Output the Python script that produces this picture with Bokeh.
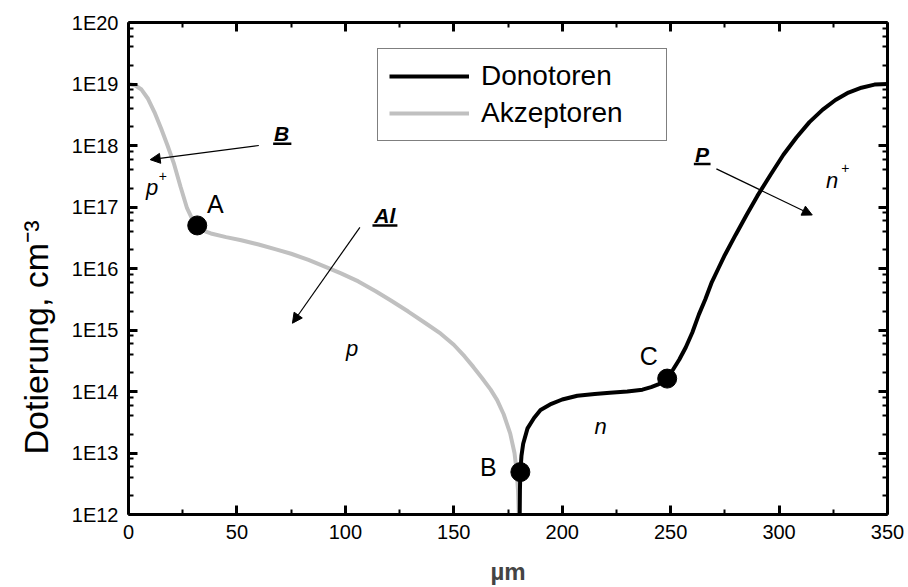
from bokeh.plotting import figure
from bokeh.models import (Range1d, FixedTicker, LinearAxis, LogAxis, Legend,
                          LegendItem, Arrow, NormalHead, Title, CustomJSTickFormatter)
from bokeh.core.properties import value
from bokeh.embed import file_html
from bokeh.resources import INLINE

FONT = "Liberation Sans"

# Depth in µm and decimal exponent of the doping concentration (cm^-3)
acceptor_x = [0, 3, 6, 9, 12, 15, 18, 21, 24, 27,
              30, 31.7, 34, 38, 45, 52, 60, 68, 75, 83,
              90, 98, 106, 114, 121, 129, 137, 144, 150, 155,
              159, 163, 167, 170, 173, 176, 178, 179, 179.6, 180]
acceptor_exp = [19.0, 18.98, 18.91, 18.76, 18.54, 18.28, 18.0, 17.7, 17.33, 16.98,
                16.76, 16.70, 16.62, 16.57, 16.51, 16.46, 16.39, 16.31, 16.24, 16.14,
                16.04, 15.92, 15.79, 15.63, 15.48, 15.30, 15.11, 14.94, 14.76, 14.57,
                14.40, 14.22, 14.03, 13.86, 13.63, 13.32, 13.0, 12.7, 12.4, 12.0]

donor_x = [180.4, 180.5, 180.7, 181.2, 182, 184, 187, 190, 195, 200,
           207, 215, 222, 230, 237, 241, 244, 246.5, 248.4, 251,
           254, 257, 260, 263, 266, 269, 272, 275, 280, 285,
           290, 296, 302, 308, 314, 320, 326, 332, 338, 344, 350]
donor_exp = [12.0, 12.4, 12.69, 12.95, 13.15, 13.4, 13.57, 13.70, 13.80, 13.87,
             13.93, 13.96, 13.98, 14.0, 14.03, 14.07, 14.11, 14.16, 14.21, 14.35,
             14.52, 14.72, 14.96, 15.25, 15.5, 15.78, 16.0, 16.22, 16.55, 16.87,
             17.18, 17.52, 17.85, 18.13, 18.38, 18.58, 18.74, 18.86, 18.94, 18.99, 19.0]

# Marked junction points
point_names = ["A", "B", "C"]
point_x = [31.7, 180.7, 248.4]
point_exp = [16.70, 12.69, 14.21]
point_label_x = [40.1, 165.9, 239.9]
point_label_exp = [17.05, 12.77, 14.57]

# Region names (italic) with their superscripts
region_text = ["p", "p", "n", "n"]
region_x = [10.9, 103.1, 217.7, 324.5]
region_exp = [17.32, 14.70, 13.43, 17.43]
sup_text = ["+", "+"]
sup_x = [15.8, 330.6]
sup_exp = [17.51, 17.64]

# Dopant labels with arrows (start of arrow near label, end at head)
dopant_text = ["B", "Al", "P"]
dopant_x = [70.6, 118.2, 264.5]
dopant_exp = [18.19, 16.86, 17.86]
underline_x0 = [66.7, 112.5, 260.7]
underline_x1 = [75.1, 124.0, 268.4]
underline_exp = [18.03, 16.70, 17.70]
arrow_x0 = [60.1, 106.7, 271.1]
arrow_exp0 = [18.0, 16.67, 17.62]
arrow_x1 = [10.0, 75.6, 315.3]
arrow_exp1 = [17.77, 15.11, 16.87]

x_ticks = [0, 50, 100, 150, 200, 250, 300, 350]
x_minor = [25, 75, 125, 175, 225, 275, 325]
y_exps = [12, 13, 14, 15, 16, 17, 18, 19, 20]
y_tick_labels = ["1E12", "1E13", "1E14", "1E15", "1E16", "1E17", "1E18", "1E19", "1E20"]

y_title = "Dotierung, cm⁻³"
x_title = "µm"

y_ticks = [10.0 ** e for e in y_exps]
y_minor = [m * 10.0 ** e for e in y_exps[:-1] for m in (2, 4, 6, 8)]


def pw(vals):
    return [10.0 ** v for v in vals]


p = figure(width=908, height=587, output_backend="svg", toolbar_location=None,
           x_range=Range1d(0, 350), y_range=Range1d(1e12, 1e20), y_axis_type="log",
           min_border_left=128, min_border_right=21, min_border_top=22,
           min_border_bottom=72)
p.grid.visible = False
p.outline_line_color = None
p.background_fill_color = "white"
p.border_fill_color = "white"


def style_axis(ax, labels=True):
    ax.axis_line_width = 3
    ax.axis_line_color = "black"
    ax.major_tick_in = 9
    ax.major_tick_out = 0
    ax.minor_tick_in = 5
    ax.minor_tick_out = 0
    ax.major_tick_line_width = 3
    ax.minor_tick_line_width = 2
    ax.major_label_text_font = FONT
    if labels:
        ax.major_label_text_color = "black"
        ax.major_label_text_font_size = "20px"
        ax.major_label_standoff = 10
    else:
        # tick marks only on the mirrored sides
        ax.formatter = CustomJSTickFormatter(code="return ''")
        ax.major_label_text_color = None
        ax.major_label_text_font_size = "1px"
        ax.major_label_standoff = 0


xt = FixedTicker(ticks=x_ticks, minor_ticks=x_minor)
yt = FixedTicker(ticks=y_ticks, minor_ticks=y_minor)

xa = p.xaxis[0]
xa.ticker = xt
style_axis(xa)
xa.axis_label = x_title
xa.axis_label_text_font = FONT
xa.axis_label_text_font_size = "24px"
xa.axis_label_text_font_style = "bold"
xa.axis_label_standoff = 16

ya = p.yaxis[0]
ya.ticker = yt
style_axis(ya)
ya.major_label_overrides = {t: s for t, s in zip(y_ticks, y_tick_labels)}

top = LinearAxis(ticker=xt)
style_axis(top, labels=False)
p.add_layout(top, "above")
right = LogAxis(ticker=yt)
style_axis(right, labels=False)
p.add_layout(right, "right")

# y-axis title as a side title, starting a little above the frame bottom
p.add_layout(Title(text=y_title, align="left", offset=60,
                   text_font=FONT, text_font_size="34px", text_font_style="normal",
                   text_color="black", standoff=28), "left")

acc = p.line(acceptor_x, pw(acceptor_exp), line_color="#c0c0c0", line_width=4)
don = p.line(donor_x, pw(donor_exp), line_color="black", line_width=4)

p.scatter(point_x, pw(point_exp), size=19, color="black")

p.text(point_label_x, pw(point_label_exp), text=point_names,
       text_font=value(FONT), text_font_size="25px", text_align="center",
       text_baseline="middle", text_color="black")

p.text(region_x, pw(region_exp), text=region_text, text_font=value(FONT),
       text_font_size="22px", text_font_style="italic", text_align="center",
       text_baseline="middle", text_color="black")
p.text(sup_x, pw(sup_exp), text=sup_text, text_font=value(FONT),
       text_font_size="14px", text_align="center", text_baseline="middle",
       text_color="black")

p.text(dopant_x, pw(dopant_exp), text=dopant_text, text_font=value(FONT),
       text_font_size="21px", text_font_style="bold italic", text_align="center",
       text_baseline="middle", text_color="black")
p.segment(underline_x0, pw(underline_exp), underline_x1, pw(underline_exp),
          line_color="black", line_width=2.5)

for xs, ys, xe, ye in zip(arrow_x0, pw(arrow_exp0), arrow_x1, pw(arrow_exp1)):
    p.add_layout(Arrow(end=NormalHead(size=10, fill_color="black", line_color="black",
                                      line_width=1),
                       x_start=xs, y_start=ys, x_end=xe, y_end=ye,
                       line_color="black", line_width=1.2))

legend = Legend(items=[LegendItem(label="Donotoren", renderers=[don]),
                       LegendItem(label="Akzeptoren", renderers=[acc])],
                location=(249, 373), border_line_color="black", border_line_width=1.3,
                background_fill_color="white", background_fill_alpha=1.0,
                label_text_font=FONT, label_text_font_size="28px",
                label_text_color="black",
                glyph_width=80, glyph_height=30, label_height=30, label_width=174,
                label_standoff=12, padding=11, spacing=5, margin=0)
p.add_layout(legend)

open("out.html", "w").write(file_html(p, INLINE))
